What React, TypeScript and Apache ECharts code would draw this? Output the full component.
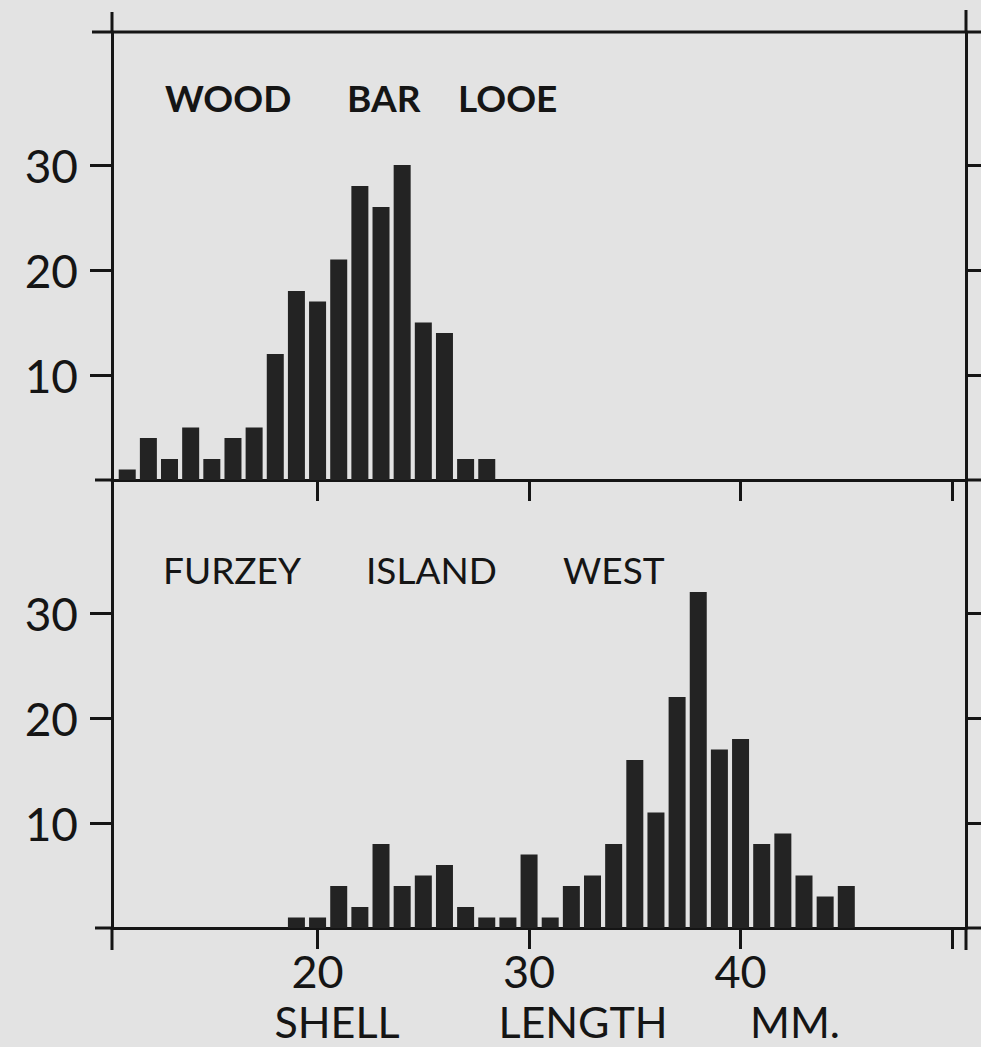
import React, { useEffect, useRef } from "react";
import * as echarts from "echarts";

// Shell length (mm) classes and counts
const lengthsTop = [11, 12, 13, 14, 15, 16, 17, 18, 19, 20, 21, 22, 23, 24, 25, 26, 27, 28];
const countsTop = [1, 4, 2, 5, 2, 4, 5, 12, 18, 17, 21, 28, 26, 30, 15, 14, 2, 2];
const lengthsBottom = [19, 20, 21, 22, 23, 24, 25, 26, 27, 28, 29, 30, 31, 32, 33, 34, 35, 36, 37, 38, 39, 40, 41, 42, 43, 44, 45];
const countsBottom = [1, 1, 4, 2, 8, 4, 5, 6, 2, 1, 1, 7, 1, 4, 5, 8, 16, 11, 22, 32, 17, 18, 8, 9, 5, 3, 4];
const yTickValues = [10, 20, 30];
const xTickValues = [20, 30, 40, 50];
const xLabelValues = [20, 30, 40];
const titleTopWords = ["WOOD", "BAR", "LOOE"];
const titleBottomWords = ["FURZEY", "ISLAND", "WEST"];
const axisNameWords = ["SHELL", "LENGTH", "MM."];

const X_MIN = 10.28;
const X_MAX = 50.66;
const Y_MAX = 42.67;
const INK = "#151515";
const FONT = "Lato, 'DejaVu Sans', sans-serif";

export default function App() {
  const ref = useRef<HTMLDivElement>(null);
  useEffect(() => {
    if (!ref.current) return;
    const chart = echarts.init(ref.current, null, { renderer: "svg" });
    const L = 112, R = 966, T1 = 32, M = 480, B = 928;
    const lineStyle = { stroke: INK, lineWidth: 3 };
    const seg = (x1: number, y1: number, x2: number, y2: number) => ({
      type: "line",
      shape: { x1, y1, x2, y2 },
      style: lineStyle,
      silent: true,
    });
    const word = (text: string, x: number, y: number, size: number, weight: string) => ({
      type: "text",
      x,
      y,
      style: { text, fill: INK, font: `${weight} ${size}px ${FONT}`, textAlign: "left", textVerticalAlign: "middle" },
      silent: true,
    });
    const wordC = (text: string, x: number, y: number, size: number) => ({
      type: "text",
      x,
      y,
      style: {
        text,
        fill: INK,
        font: `normal ${size}px ${FONT}`,
        lineHeight: 34,
        textAlign: "center",
        textVerticalAlign: "middle",
      },
      silent: true,
    });

    const xAxisBase = (gridIndex: number, labels: boolean) => ({
      type: "value",
      gridIndex,
      min: X_MIN,
      max: X_MAX,
      splitLine: { show: false },
      axisLine: { show: true, onZero: false, lineStyle: { color: INK, width: 3 } },
      axisTick: { show: true, length: 21, customValues: xTickValues, lineStyle: { color: INK, width: 3 } },
      axisLabel: {
        show: labels,
        customValues: xLabelValues,
        margin: 26,
        fontSize: 45,
        lineHeight: 34,
        fontFamily: FONT,
        color: INK,
      },
    });
    const yLeft = (gridIndex: number) => ({
      type: "value",
      gridIndex,
      position: "left",
      min: 0,
      max: Y_MAX,
      splitLine: { show: false },
      axisLine: { show: true, lineStyle: { color: INK, width: 3 } },
      axisTick: { show: true, length: 22, customValues: yTickValues, lineStyle: { color: INK, width: 3 } },
      axisLabel: { show: true, customValues: yTickValues, margin: 34, fontSize: 46, fontFamily: FONT, color: INK },
    });
    const yRight = (gridIndex: number) => ({
      type: "value",
      gridIndex,
      position: "right",
      min: 0,
      max: Y_MAX,
      splitLine: { show: false },
      axisLine: { show: true, lineStyle: { color: INK, width: 3 } },
      axisTick: { show: true, length: 16, customValues: yTickValues, lineStyle: { color: INK, width: 3 } },
      axisLabel: { show: false },
    });

    chart.setOption({
      animation: false,
      backgroundColor: "#e3e3e3",
      grid: [
        { left: L, top: T1, width: R - L, height: M - T1, outerBoundsMode: "none", containLabel: false },
        { left: L, top: M, width: R - L, height: B - M, outerBoundsMode: "none", containLabel: false },
      ],
      xAxis: [xAxisBase(0, false), xAxisBase(1, true)],
      yAxis: [yLeft(0), yRight(0), yLeft(1), yRight(1)],
      series: [
        {
          type: "bar",
          xAxisIndex: 0,
          yAxisIndex: 0,
          barWidth: 17,
          itemStyle: { color: "#232323" },
          data: lengthsTop.map((x, i) => [x, countsTop[i]]),
        },
        {
          type: "bar",
          xAxisIndex: 1,
          yAxisIndex: 2,
          barWidth: 17,
          itemStyle: { color: "#232323" },
          data: lengthsBottom.map((x, i) => [x, countsBottom[i]]),
        },
      ],
      graphic: [
        // frame overshoots
        seg(92, T1, 981, T1),
        seg(95, M, L, M),
        seg(R, M, 981, M),
        seg(95, B, L, B),
        seg(R, B, 981, B),
        seg(L, 12, L, T1),
        seg(L, B, L, 950),
        seg(R, 10, R, T1),
        seg(R, B, R, 950),
        // titles
        word(titleTopWords[0], 165, 97, 37, "bold"),
        word(titleTopWords[1], 347, 97, 37, "bold"),
        word(titleTopWords[2], 458, 97, 37, "bold"),
        word(titleBottomWords[0], 163, 569, 37, "normal"),
        word(titleBottomWords[1], 366, 569, 37, "normal"),
        word(titleBottomWords[2], 563, 569, 37, "normal"),
        // axis name
        wordC(axisNameWords[0], 337, 1021, 43),
        wordC(axisNameWords[1], 583, 1021, 43),
        wordC(axisNameWords[2], 795, 1021, 43),
      ],
    });
    return () => chart.dispose();
  }, []);
  return (
    <div
      ref={ref}
      style={{ position: "absolute", left: 0, top: 0, width: 981, height: 1047 }}
    />
  );
}
